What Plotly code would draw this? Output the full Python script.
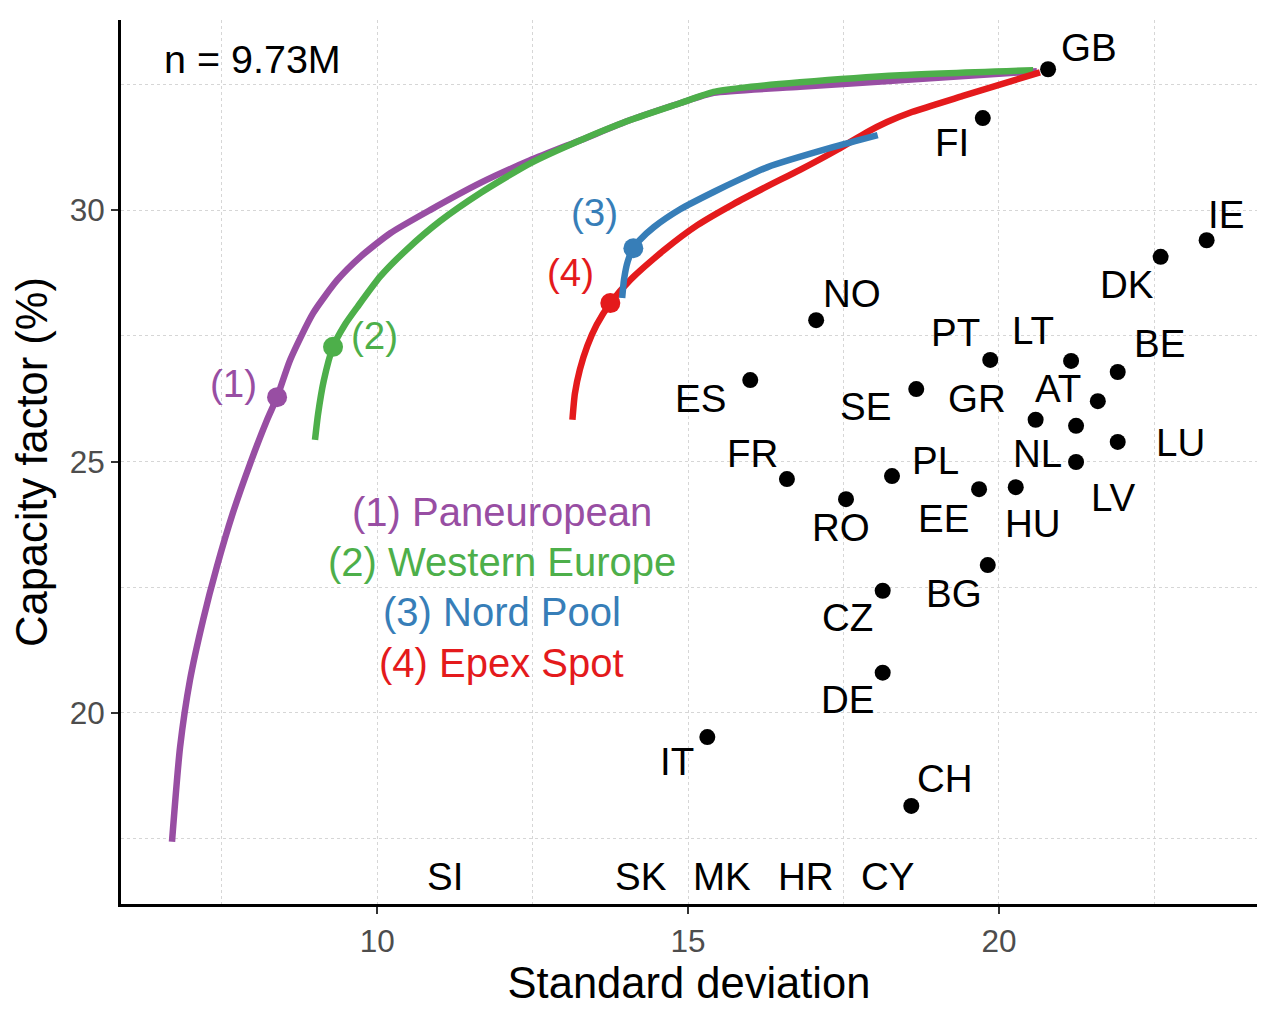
import plotly.graph_objects as go

# ---------------- data ----------------
countries = ["GB", "FI", "IE", "DK", "NO", "PT", "LT", "BE", "SE", "GR", "AT", "NL", "LV",
             "LU", "PL", "EE", "HU", "BG", "ES", "FR", "RO", "CZ", "DE", "IT", "CH"]
sd = [20.79, 19.74, 23.34, 22.60, 17.06, 19.86, 21.16, 21.91, 18.67, 20.59, 21.59, 21.24, 21.24,
      21.91, 18.28, 19.68, 20.27, 19.82, 16.00, 16.59, 17.54, 18.13, 18.13, 15.31, 18.59]
cf = [32.80, 31.83, 29.40, 29.07, 27.81, 27.02, 27.00, 26.78, 26.44, 25.83, 26.20, 25.71, 24.99,
      25.39, 24.71, 24.45, 24.49, 22.94, 26.62, 24.65, 24.25, 22.43, 20.80, 19.52, 18.15]

# countries whose capacity factor lies below the plotted range (label only)
low_countries = ["SI", "SK", "MK", "HR", "CY"]
low_sd = [11.09, 14.24, 15.55, 16.90, 18.20]

# efficient frontiers
pan_sd = [6.70, 6.83, 6.99, 7.20, 7.42, 7.68, 7.96, 8.23, 8.39, 8.60, 8.97, 9.36, 9.73, 10.21,
          10.85, 11.66, 12.46, 13.27, 14.07, 14.88, 15.41, 16.80, 18.41, 20.61]
pan_cf = [17.44, 19.32, 20.66, 21.85, 22.90, 23.98, 24.97, 25.83, 26.28, 27.02, 27.95, 28.61, 29.07,
          29.54, 30.00, 30.54, 30.99, 31.39, 31.79, 32.13, 32.33, 32.45, 32.58, 32.76]
weu_sd = [9.00, 9.05, 9.14, 9.29, 9.48, 9.68, 10.05, 10.48, 11.01, 11.66, 12.46, 13.27, 14.07,
          14.88, 15.41, 15.85, 16.80, 18.41, 20.55]
weu_cf = [25.43, 25.95, 26.60, 27.28, 27.72, 28.07, 28.68, 29.22, 29.78, 30.34, 30.93, 31.39, 31.79,
          32.13, 32.35, 32.43, 32.54, 32.68, 32.78]
nord_sd = [13.94, 13.97, 14.03, 14.12, 14.22, 14.45, 14.88, 15.41, 15.85, 16.27, 17.33, 18.05]
nord_cf = [28.25, 28.62, 28.98, 29.24, 29.40, 29.66, 30.02, 30.36, 30.62, 30.85, 31.25, 31.49]
epex_sd = [13.14, 13.18, 13.26, 13.38, 13.53, 13.75, 14.07, 14.61, 15.15, 15.73, 16.27, 16.80,
           17.40, 17.88, 18.20, 18.60, 19.42, 20.66]
epex_cf = [25.83, 26.35, 26.83, 27.30, 27.72, 28.15, 28.61, 29.20, 29.70, 30.12, 30.47, 30.80,
           31.20, 31.55, 31.75, 31.95, 32.27, 32.74]

# highlighted portfolio on each frontier
mark_sd = [8.39, 9.29, 14.12, 13.75]
mark_cf = [26.28, 27.28, 29.24, 28.15]
mark_lab = ["(1)", "(2)", "(3)", "(4)"]

series_names = ["(1) Paneuropean", "(2) Western Europe", "(3) Nord Pool", "(4) Epex Spot"]
legend_cf = [24, 23, 22, 21]
legend_sd = 12
n_text = "n = 9.73M"

# ---------------- styling ----------------
colors = ["#984EA3", "#4DAF4A", "#377EB8", "#E41A1C"]
FONT = "Liberation Sans, Arial, sans-serif"

# label offsets in pixels (xshift, yshift)
lab_off = {
    "GB": (41, 22), "FI": (-31, -24), "IE": (19, 26), "DK": (-34, -28), "NO": (36, 27),
    "PT": (-35, 27), "LT": (-38, 30), "BE": (42, 28), "SE": (-51, -17), "GR": (-59, 21),
    "AT": (-40, 13), "NL": (-39, -28), "LV": (37, -35), "LU": (63, -1), "PL": (43, 16),
    "EE": (-36, -29), "HU": (17, -36), "BG": (-34, -28), "ES": (-50, -18), "FR": (-34, 26),
    "RO": (-5, -28), "CZ": (-35, -27), "DE": (-35, -27), "IT": (-30, -24), "CH": (34, 27),
}
mark_off = [(-44, 14), (41, 11), (-39, 36), (-40, 31)]

fig = go.Figure()

curves = [(pan_sd, pan_cf), (weu_sd, weu_cf), (epex_sd, epex_cf), (nord_sd, nord_cf)]
curve_cols = [colors[0], colors[1], colors[3], colors[2]]
for (xs, ys), c in zip(curves, curve_cols):
    fig.add_trace(go.Scatter(x=xs, y=ys, mode="lines",
                             line=dict(color=c, width=6.5, shape="spline", smoothing=0.6),
                             showlegend=False, hoverinfo="skip"))

fig.add_trace(go.Scatter(x=mark_sd, y=mark_cf, mode="markers",
                         marker=dict(color=colors, size=20), showlegend=False))

fig.add_trace(go.Scatter(x=sd, y=cf, mode="markers",
                         marker=dict(color="black", size=16), showlegend=False,
                         text=countries))

annotations = []
for name, xv, yv in zip(countries, sd, cf):
    dx, dy = lab_off[name]
    annotations.append(dict(x=xv, y=yv, text=name, showarrow=False, xshift=dx, yshift=dy,
                            font=dict(family=FONT, size=38.5, color="black")))
for name, xv in zip(low_countries, low_sd):
    annotations.append(dict(x=xv, y=0.004, yref="paper", yanchor="bottom", text=name,
                            showarrow=False, font=dict(family=FONT, size=38.5, color="black")))
for lab, xv, yv, (dx, dy), c in zip(mark_lab, mark_sd, mark_cf, mark_off, colors):
    annotations.append(dict(x=xv, y=yv, text=lab, showarrow=False, xshift=dx, yshift=dy,
                            font=dict(family=FONT, size=38.5, color=c)))
for name, yv, c in zip(series_names, legend_cf, colors):
    annotations.append(dict(x=legend_sd, y=yv, text=name, showarrow=False,
                            font=dict(family=FONT, size=40, color=c)))
annotations.append(dict(x=8, y=33, text=n_text, showarrow=False,
                        font=dict(family=FONT, size=39.5, color="black")))

grid = dict(showgrid=True, gridcolor="#D6D6D6", gridwidth=1.2, griddash="dot")
minor = dict(dtick=2.5, tick0=0, showgrid=True, gridcolor="#D6D6D6", gridwidth=1.2, griddash="dot")
# the page body adds an 8px offset, so the figure is 8px smaller than the window
fig.update_layout(
    width=1260, height=1001,
    margin=dict(l=113, r=11, t=12, b=105),
    plot_bgcolor="white", paper_bgcolor="white",
    annotations=annotations,
    xaxis=dict(range=[5.88, 24.15], tickvals=[10, 15, 20], zeroline=False, automargin=False,
               showline=True, linecolor="black", linewidth=3,
               ticks="outside", ticklen=7, tickwidth=2, tickcolor="#333333",
               tickfont=dict(family=FONT, size=31.5, color="#4D4D4D"),
               title=dict(text="Standard deviation", font=dict(family=FONT, size=43.5, color="black"),
                          standoff=10),
               minor=minor, **grid),
    yaxis=dict(range=[16.2, 33.78], tickvals=[20, 25, 30], zeroline=False, automargin=False,
               showline=True, linecolor="black", linewidth=3,
               ticks="outside", ticklen=7, tickwidth=2, tickcolor="#333333",
               tickfont=dict(family=FONT, size=31.5, color="#4D4D4D"),
               title=dict(text="Capacity factor (%)", font=dict(family=FONT, size=43.5, color="black"),
                          standoff=14),
               minor=minor, **grid),
)

fig.write_html("out.html")
